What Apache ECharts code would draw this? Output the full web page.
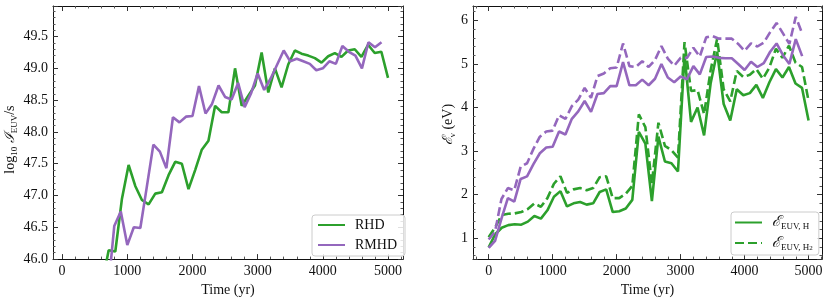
<!DOCTYPE html>
<html><head><meta charset="utf-8">
<script src="https://cdn.jsdelivr.net/npm/echarts@6/dist/echarts.min.js"></script>
<style>html,body{margin:0;padding:0;background:#fff}#c{width:830px;height:302px}</style>
</head><body><div id="c"></div>
<script>
// ---- data ----
const RHD_TIME = [0,102,204,306,408,510,612,714,816,918,1020,1122,1224,1327,1429,1531,1633,1735,1837,1939,2041,2143,2245,2347,2449,2551,2653,2755,2857,2959,3061,3163,3265,3367,3469,3571,3673,3776,3878,3980,4082,4184,4286,4388,4490,4592,4694,4796,4898,5000];
const RMHD_TIME = [0,100,200,300,400,500,600,700,800,900,1000,1100,1200,1300,1400,1500,1600,1700,1800,1900,2000,2100,2200,2300,2400,2500,2600,2700,2800,2900,3000,3100,3200,3300,3400,3500,3600,3700,3800,3900,4000,4100,4200,4300,4400,4500,4600,4700,4800,4900];

// log10 I_EUV (left panel); null = below the plotted range
const RHD_LOGI = [null,null,null,null,null,null,45.6,46.14,46.12,46.95,47.48,47.15,46.93,46.86,47.03,47.05,47.32,47.53,47.50,47.10,47.40,47.72,47.86,48.41,48.31,48.31,49.00,48.41,48.57,48.73,49.25,48.62,49.00,48.70,49.06,49.28,49.23,49.20,49.16,49.09,49.19,49.24,49.18,49.28,49.30,49.18,49.37,49.24,49.26,48.85];
const RMHD_LOGI = [null,null,null,null,null,null,null,45.45,46.52,46.75,46.22,46.50,46.49,47.14,47.80,47.69,47.43,48.23,48.15,48.24,48.25,48.72,48.29,48.44,48.73,48.55,48.51,48.77,48.39,48.61,48.92,48.66,48.84,49.06,49.28,49.11,49.15,49.11,49.07,48.97,49.00,49.11,49.07,49.35,49.26,49.20,49.00,49.41,49.33,49.41];

// mean photon energy (right panel)
const RHD_EH  = [0.79,1.09,1.24,1.30,1.32,1.31,1.38,1.51,1.45,1.64,1.95,2.08,1.73,1.80,1.83,1.77,1.80,2.06,2.12,1.60,1.62,1.68,1.88,3.44,3.17,1.85,3.33,2.76,2.72,2.53,5.20,3.67,4.00,3.36,4.55,5.28,4.08,3.70,4.42,4.28,4.33,4.52,4.22,4.58,4.88,4.69,4.93,4.55,4.45,3.70];
const RHD_EH2 = [1.02,1.25,1.53,1.56,1.57,1.60,1.67,1.80,1.72,1.92,2.25,2.42,2.04,2.12,2.15,2.10,2.15,2.40,2.42,1.92,1.92,2.02,2.20,3.84,3.55,2.25,3.65,3.12,3.02,2.85,5.50,4.38,4.40,3.85,4.85,5.58,4.42,4.14,4.84,4.70,4.75,4.88,4.66,4.92,5.35,5.14,5.42,5.03,4.93,4.15];
const RMHD_EH  = [0.78,0.94,1.45,1.92,1.84,2.36,2.42,2.70,2.95,3.08,3.10,3.45,3.38,3.74,3.91,4.15,3.90,4.31,4.33,4.49,4.49,5.04,4.51,4.51,4.64,4.51,4.66,5.00,4.69,4.58,4.71,4.65,4.95,4.76,5.16,5.17,5.14,5.13,5.13,5.00,4.86,5.05,4.93,5.02,5.28,5.47,5.20,5.00,5.57,5.18];
const RMHD_EH2 = [0.97,1.15,1.90,2.15,2.10,2.64,2.72,3.05,3.33,3.45,3.47,3.82,3.74,4.03,4.18,4.45,4.22,4.72,4.78,4.90,4.92,5.47,4.95,4.93,5.06,4.93,5.09,5.41,5.12,4.96,5.14,5.14,5.37,5.17,5.61,5.64,5.58,5.58,5.58,5.46,5.30,5.47,5.40,5.49,5.73,5.94,5.70,5.46,6.08,5.70];

const LEFT_LEGEND = ['RHD', 'RMHD'];
const RIGHT_LEGEND = ['EUV_H', 'EUV_H2'];

// ---- styling ----
const FONT = '"Liberation Serif","DejaVu Serif",serif';
const GREEN = '#2ca02c', PURPLE = '#9467bd';
const INK = '#111';

function pairs(t, v) { return t.map((x, i) => [x, v[i]]); }

function xAx(grid, min, max, pos, withLabels) {
  return {
    type: 'value', gridIndex: grid, min: min, max: max, position: pos,
    axisLine: {show: true, onZero: false, lineStyle: {color: INK, width: 1}},
    axisTick: {show: true, inside: true, length: 5, lineStyle: {color: '#333', width: 1}},
    minorTick: {show: true, splitNumber: 5, length: 2.5, lineStyle: {color: '#555', width: 1}},
    splitLine: {show: false},
    axisLabel: {show: withLabels, color: INK, fontFamily: FONT, fontSize: 14, margin: 5,
      showMinLabel: false, showMaxLabel: false,
      formatter: v => (Math.abs(v % 1000) < 1e-6 ? String(v) : '')},
    name: withLabels ? 'Time (yr)' : '', nameLocation: 'middle', nameGap: 18,
    nameTextStyle: {color: INK, fontFamily: FONT, fontSize: 14}
  };
}
function yAx(grid, min, max, pos, withLabels, step, setInterval, digits, name, nameGap, namePad) {
  const o = {
    type: 'value', gridIndex: grid, min: min, max: max, position: pos,
    axisLine: {show: true, onZero: false, lineStyle: {color: INK, width: 1}},
    axisTick: {show: true, inside: true, length: 5, lineStyle: {color: '#333', width: 1}},
    minorTick: {show: true, splitNumber: 5, length: 2.5, lineStyle: {color: '#555', width: 1}},
    splitLine: {show: false},
    axisLabel: {show: withLabels, color: INK, fontFamily: FONT, fontSize: 14, margin: 5,
      formatter: v => {
        const r = Math.round(v / step) * step;
        if (Math.abs(r - v) > 1e-6) return '';
        return r.toFixed(digits);
      }},
    name: withLabels ? name : '', nameLocation: 'middle', nameGap: nameGap,
    nameTextStyle: {color: INK, fontFamily: FONT, fontSize: 14, rich: subRich, padding: namePad}
  };
  if (setInterval) o.interval = step;
  return o;
}

const subRich = {
  n: {fontFamily: FONT, fontSize: 14, color: INK, lineHeight: 18},
  s: {fontFamily: FONT, fontSize: 9, color: INK, verticalAlign: 'bottom', lineHeight: 14},
  i: {fontFamily: '"DejaVu Serif",serif', fontStyle: 'italic', fontSize: 14, color: INK, lineHeight: 18}
};

const leftName = '{n|log}{s|10}{n| }{i|ℐ}{s|EUV}{n|/s}';
const rightName = '{i|ℰ}{s|ν}{n| (eV)}';

const series = [
  {name: 'RHD', type: 'line', xAxisIndex: 0, yAxisIndex: 0, data: pairs(RHD_TIME, RHD_LOGI),
   symbol: 'none', clip: true, lineStyle: {color: GREEN, width: 2.6}, itemStyle: {color: GREEN}},
  {name: 'RMHD', type: 'line', xAxisIndex: 0, yAxisIndex: 0, data: pairs(RMHD_TIME, RMHD_LOGI),
   symbol: 'none', clip: true, lineStyle: {color: PURPLE, width: 2.6}, itemStyle: {color: PURPLE}},
  {name: 'EUV_H', type: 'line', xAxisIndex: 2, yAxisIndex: 2, data: pairs(RHD_TIME, RHD_EH),
   symbol: 'none', lineStyle: {color: GREEN, width: 2.6}, itemStyle: {color: GREEN}},
  {name: 'EUV_H2', type: 'line', xAxisIndex: 2, yAxisIndex: 2, data: pairs(RHD_TIME, RHD_EH2),
   symbol: 'none', lineStyle: {color: GREEN, width: 2.6, type: [9, 4]}, itemStyle: {color: GREEN}},
  {name: 'RMHD_H', type: 'line', xAxisIndex: 2, yAxisIndex: 2, data: pairs(RMHD_TIME, RMHD_EH),
   symbol: 'none', lineStyle: {color: PURPLE, width: 2.6}, itemStyle: {color: PURPLE}},
  {name: 'RMHD_H2', type: 'line', xAxisIndex: 2, yAxisIndex: 2, data: pairs(RMHD_TIME, RMHD_EH2),
   symbol: 'none', lineStyle: {color: PURPLE, width: 2.6, type: [9, 4]}, itemStyle: {color: PURPLE}}
];

const legendBox = {
  orient: 'vertical', backgroundColor: 'rgba(255,255,255,0.85)', borderColor: '#cccccc',
  borderWidth: 1, borderRadius: 3, itemWidth: 27, itemHeight: 12, selectedMode: false,
  itemStyle: {color: 'rgba(0,0,0,0)', borderColor: 'rgba(0,0,0,0)', borderWidth: 0, opacity: 0}
};

const option = {
  animation: false,
  backgroundColor: '#fff',
  grid: [
    {left: 53, top: 6, width: 350, height: 256},
    {left: 473, top: 6, width: 349, height: 256}
  ],
  xAxis: [
    xAx(0, -140, 5230, 'bottom', true),
    xAx(0, -140, 5230, 'top', false),
    xAx(1, -245, 5210, 'bottom', true),
    xAx(1, -245, 5210, 'top', false)
  ],
  yAxis: [
    yAx(0, 46, 49.98, 'left', true, 0.5, true, 1, leftName, 34, [0, 14, 0, 0]),
    yAx(0, 46, 49.98, 'right', false, 0.5, true, 1, '', 0, 0),
    yAx(1, 0.52, 6.33, 'left', true, 1, false, 0, rightName, 4, [0, 0, 0, 16]),
    yAx(1, 0.52, 6.33, 'right', false, 1, false, 0, '', 0, 0)
  ],
  legend: [
    Object.assign({}, legendBox, {
      data: LEFT_LEGEND, left: 312, top: 215, padding: [3, 8, 4, 5], itemGap: 6,
      textStyle: {fontFamily: FONT, fontSize: 14, color: INK, padding: [0, 0, 0, 5]}
    }),
    Object.assign({}, legendBox, {
      data: RIGHT_LEGEND, left: 731, top: 212, padding: [3, 6, 3, 3], itemGap: 4,
      formatter: n => n === 'EUV_H' ? '{e|ℰ}{s|EUV, H}' : '{e|ℰ}{s|EUV, H}{t|2}',
      textStyle: {fontFamily: FONT, fontSize: 14, color: INK, padding: [0, 0, 0, 5],
        rich: {
          e: {fontFamily: '"DejaVu Serif",serif', fontStyle: 'italic', fontSize: 15, color: INK, lineHeight: 18},
          s: {fontFamily: FONT, fontSize: 9, color: INK, verticalAlign: 'bottom', lineHeight: 13},
          t: {fontFamily: FONT, fontSize: 7, color: INK, verticalAlign: 'bottom', lineHeight: 11}
        }}
    })
  ],
  series: series
};

const chart = echarts.init(document.getElementById('c'), null, {renderer: 'canvas'});
chart.setOption(option);
</script>
</body></html>
